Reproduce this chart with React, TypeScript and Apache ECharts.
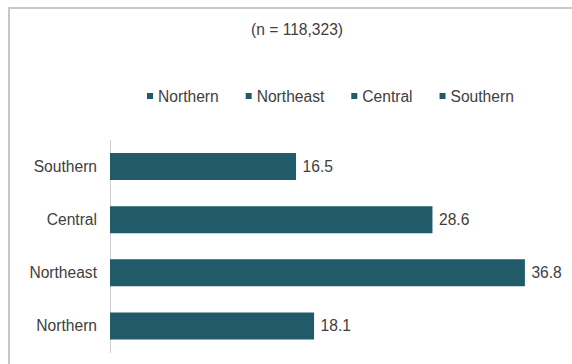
import React, { useEffect, useRef } from "react";
import * as echarts from "echarts";

const categories = ["Northern", "Northeast", "Central", "Southern"];
const values = [18.1, 36.8, 28.6, 16.5];
const subtitle = "(n = 118,323)";

const BAR_COLOR = "#215a68";
const TEXT_COLOR = "#404040";
const FONT = "'Liberation Sans', Arial, sans-serif";
const FS = 15.6;

export default function App() {
  const ref = useRef<HTMLDivElement>(null);
  useEffect(() => {
    if (!ref.current) return;
    const chart = echarts.init(ref.current, undefined, { renderer: "svg" });
    const series = categories.map((name, i) => ({
      name,
      type: "bar",
      stack: "total",
      barWidth: 27,
      itemStyle: { color: BAR_COLOR },
      label: {
        show: true,
        position: "right",
        distance: 6.5,
        color: TEXT_COLOR,
        fontSize: FS,
        fontFamily: FONT,
      },
      data: values.map((v, j) => (j === i ? v : "-")),
    }));
    chart.setOption({
      animation: false,
      backgroundColor: "#ffffff",
      title: {
        text: subtitle,
        left: 251,
        top: 21,
        padding: 0,
        textStyle: { fontSize: FS, fontWeight: "normal", color: TEXT_COLOR, fontFamily: FONT },
      },
      legend: {
        data: categories,
        left: 147,
        top: 88,
        padding: 0,
        icon: "rect",
        itemWidth: 6,
        itemHeight: 6,
        itemGap: 27,
        selectedMode: false,
        textStyle: { fontSize: FS, color: TEXT_COLOR, fontFamily: FONT },
      },
      grid: { left: 110, right: 11, top: 140, bottom: 11.5, containLabel: false },
      xAxis: {
        type: "value",
        min: 0,
        max: 40,
        show: false,
        splitLine: { show: false },
      },
      yAxis: {
        type: "category",
        data: categories,
        axisLine: { show: true, lineStyle: { color: "#cfcfcf", width: 1 } },
        axisTick: { show: false },
        axisLabel: { color: TEXT_COLOR, fontSize: FS, fontFamily: FONT, margin: 13 },
      },
      graphic: [
        {
          type: "rect",
          shape: { x: 9, y: 8, width: 700, height: 500 },
          style: { fill: "none", stroke: "#c8c8c8", lineWidth: 2 },
          silent: true,
        },
      ],
      series,
    });
    return () => chart.dispose();
  }, []);
  return (
    <div
      ref={ref}
      style={{ position: "absolute", left: 0, top: 0, width: 572, height: 364 }}
    />
  );
}
